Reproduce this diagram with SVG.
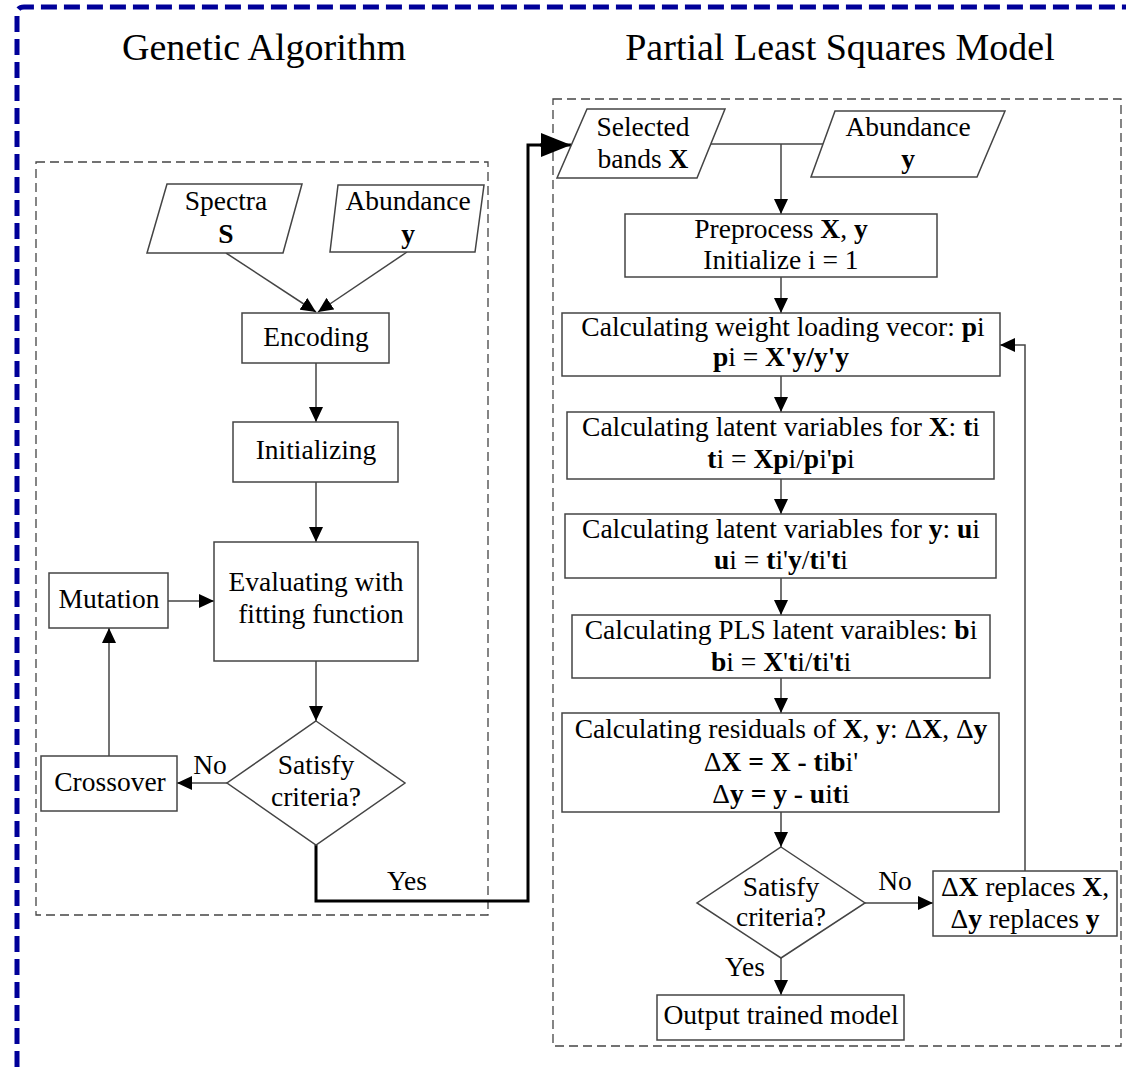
<svg xmlns="http://www.w3.org/2000/svg" width="1126" height="1067" viewBox="0 0 1126 1067">
<defs>
<style>
text{font-family:"Liberation Serif","Times New Roman",serif;font-size:27.5px;fill:#000;text-anchor:middle}
.title{font-size:38px}
.b{font-weight:bold}
.node{fill:#fff;stroke:#444;stroke-width:1.5}
.con{fill:none;stroke:#444;stroke-width:1.5}
.thick{fill:none;stroke:#000;stroke-width:3}
.frame{fill:none;stroke:#444;stroke-width:1.3;stroke-dasharray:9 5}
</style>
<marker id="ah" viewBox="0 0 10 10" refX="10" refY="5" markerWidth="15" markerHeight="14" markerUnits="userSpaceOnUse" orient="auto" preserveAspectRatio="none">
<path d="M0,0 L10,5 L0,10 z" fill="#000"/>
</marker>
<marker id="big" viewBox="0 0 10 10" refX="10" refY="5" markerWidth="30" markerHeight="24" markerUnits="userSpaceOnUse" orient="auto" preserveAspectRatio="none">
<path d="M0,0 L10,5 L0,10 z" fill="#000"/>
</marker>
</defs>
<rect width="1126" height="1067" fill="#fff"/>
<path d="M17,1067 L17,14 Q17,7 24,7 L1126,7" fill="none" stroke="#000099" stroke-width="5" stroke-dasharray="16 7"/>
<text class="title" x="264" y="60">Genetic Algorithm</text>
<text class="title" x="840" y="60">Partial Least Squares Model</text>
<rect class="frame" x="36" y="162" width="452" height="753"/>
<rect class="frame" x="553" y="99" width="568" height="947"/>

<g id="connectors">
<line class="con" x1="226" y1="253" x2="316" y2="312" marker-end="url(#ah)"/>
<line class="con" x1="407" y1="252" x2="318" y2="312" marker-end="url(#ah)"/>
<line class="con" x1="316" y1="363" x2="316" y2="422" marker-end="url(#ah)"/>
<line class="con" x1="316" y1="482" x2="316" y2="542" marker-end="url(#ah)"/>
<line class="con" x1="168" y1="601" x2="214" y2="601" marker-end="url(#ah)"/>
<line class="con" x1="316" y1="661" x2="316" y2="721" marker-end="url(#ah)"/>
<line class="con" x1="227" y1="783" x2="177" y2="783" marker-end="url(#ah)"/>
<line class="con" x1="109" y1="756" x2="109" y2="628" marker-end="url(#ah)"/>
<path class="thick" d="M316,845 L316,901 L528,901 L528,145 L545,145"/>
<line x1="540" y1="145" x2="571" y2="145" stroke="#000" stroke-width="3" marker-end="url(#big)"/>
<path class="con" d="M711,144 L823,144"/>
<line class="con" x1="781" y1="144" x2="781" y2="214" marker-end="url(#ah)"/>
<line class="con" x1="781" y1="277" x2="781" y2="313" marker-end="url(#ah)"/>
<line class="con" x1="781" y1="376" x2="781" y2="412" marker-end="url(#ah)"/>
<line class="con" x1="781" y1="479" x2="781" y2="514" marker-end="url(#ah)"/>
<line class="con" x1="781" y1="578" x2="781" y2="615" marker-end="url(#ah)"/>
<line class="con" x1="781" y1="678" x2="781" y2="713" marker-end="url(#ah)"/>
<line class="con" x1="781" y1="812" x2="781" y2="847" marker-end="url(#ah)"/>
<line class="con" x1="865" y1="903" x2="933" y2="903" marker-end="url(#ah)"/>
<line class="con" x1="781" y1="958" x2="781" y2="995" marker-end="url(#ah)"/>
<path class="con" d="M1025,871 L1025,345 L1000,345" marker-end="url(#ah)"/>
<text x="210" y="774">No</text>
<text x="407" y="890">Yes</text>
<text x="895" y="890">No</text>
<text x="745" y="976">Yes</text>
</g>

<g id="spectra">
<polygon class="node" points="167,184 302,184 283,253 147,253"/>
<text x="226" y="210">Spectra</text>
<text x="226" y="243" class="b">S</text>
</g>
<g id="abundance-ga">
<polygon class="node" points="338,185 484,185 475,252 330,252"/>
<text x="408" y="210">Abundance</text>
<text x="408" y="243" class="b">y</text>
</g>
<g id="encoding">
<rect class="node" x="242" y="313" width="147" height="50"/>
<text x="316" y="346">Encoding</text>
</g>
<g id="initializing">
<rect class="node" x="233" y="422" width="165" height="60"/>
<text x="316" y="459">Initializing</text>
</g>
<g id="evaluating">
<rect class="node" x="214" y="542" width="204" height="119"/>
<text x="316" y="591">Evaluating with</text>
<text x="321" y="623">fitting function</text>
</g>
<g id="mutation">
<rect class="node" x="49" y="573" width="119" height="55"/>
<text x="109" y="608">Mutation</text>
</g>
<g id="ga-decision">
<polygon class="node" points="316,721 405,783 316,845 227,783"/>
<text x="316" y="774">Satisfy</text>
<text x="316" y="806">criteria?</text>
</g>
<g id="crossover">
<rect class="node" x="41" y="756" width="136" height="55"/>
<text x="110" y="791">Crossover</text>
</g>

<g id="selected-bands">
<polygon class="node" points="587,109 725,109 697,178 557,178"/>
<text x="643" y="136">Selected</text>
<text x="643" y="168">bands <tspan class="b">X</tspan></text>
</g>
<g id="abundance-pls">
<polygon class="node" points="835,111 1005,111 977,177 811,177"/>
<text x="908" y="136">Abundance</text>
<text x="908" y="168" class="b">y</text>
</g>
<g id="preprocess">
<rect class="node" x="625" y="214" width="312" height="63"/>
<text x="781" y="238">Preprocess <tspan class="b">X</tspan>, <tspan class="b">y</tspan></text>
<text x="781" y="269">Initialize i = 1</text>
</g>
<g id="weight">
<rect class="node" x="562" y="313" width="438" height="63"/>
<text x="783" y="336">Calculating weight loading vecor: <tspan class="b">p</tspan>i</text>
<text x="781" y="366"><tspan class="b">p</tspan>i = <tspan class="b">X'y/y'y</tspan></text>
</g>
<g id="latent-x">
<rect class="node" x="567" y="412" width="427" height="67"/>
<text x="781" y="436">Calculating latent variables for <tspan class="b">X</tspan>: <tspan class="b">t</tspan>i</text>
<text x="781" y="468"><tspan class="b">t</tspan>i = <tspan class="b">Xp</tspan>i/<tspan class="b">p</tspan>i'<tspan class="b">p</tspan>i</text>
</g>
<g id="latent-y">
<rect class="node" x="565" y="514" width="431" height="64"/>
<text x="781" y="538">Calculating latent variables for <tspan class="b">y</tspan>: <tspan class="b">u</tspan>i</text>
<text x="781" y="569"><tspan class="b">u</tspan>i = <tspan class="b">t</tspan>i'<tspan class="b">y</tspan>/<tspan class="b">t</tspan>i'<tspan class="b">t</tspan>i</text>
</g>
<g id="pls-latent">
<rect class="node" x="572" y="615" width="418" height="63"/>
<text x="781" y="639">Calculating PLS latent varaibles: <tspan class="b">b</tspan>i</text>
<text x="781" y="671"><tspan class="b">b</tspan>i = <tspan class="b">X</tspan>'<tspan class="b">t</tspan>i/<tspan class="b">t</tspan>i'<tspan class="b">t</tspan>i</text>
</g>
<g id="residuals">
<rect class="node" x="562" y="713" width="437" height="99"/>
<text x="781" y="738">Calculating residuals of <tspan class="b">X</tspan>, <tspan class="b">y</tspan>: Δ<tspan class="b">X</tspan>, Δ<tspan class="b">y</tspan></text>
<text x="781" y="771">Δ<tspan class="b">X = X - t</tspan>i<tspan class="b">b</tspan>i'</text>
<text x="781" y="803">Δ<tspan class="b">y = y - u</tspan>i<tspan class="b">t</tspan>i</text>
</g>
<g id="pls-decision">
<polygon class="node" points="781,847 865,903 781,958 697,903"/>
<text x="781" y="896">Satisfy</text>
<text x="781" y="926">criteria?</text>
</g>
<g id="replaces">
<rect class="node" x="933" y="871" width="184" height="65"/>
<text x="1025" y="896">Δ<tspan class="b">X</tspan> replaces <tspan class="b">X</tspan>,</text>
<text x="1025" y="928">Δ<tspan class="b">y</tspan> replaces <tspan class="b">y</tspan></text>
</g>
<g id="output">
<rect class="node" x="657" y="995" width="247" height="45"/>
<text x="781" y="1024">Output trained model</text>
</g>
</svg>
